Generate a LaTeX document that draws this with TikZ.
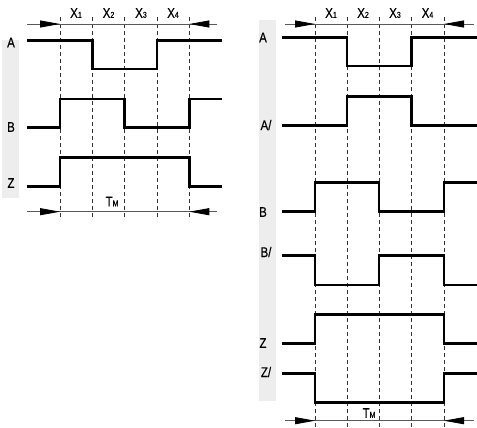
\documentclass[tikz,border=0pt]{standalone}
\usepackage{fontspec}
\setmainfont{Liberation Sans}[FakeStretch=0.82,FakeBold=0.5]
\usetikzlibrary{arrows.meta}
\newcommand{\sm}[1]{{\fontsize{8.5}{8.5}\selectfont #1}}
\begin{document}
\begin{tikzpicture}[x=1pt,y=-1pt,
  sig/.style={line width=2.9pt,line join=miter},
  grid/.style={draw=black!80,line width=0.8pt,dash pattern=on 4pt off 3pt},
  dim/.style={draw=black!65,line width=0.8pt},
  tip/.style={-{Triangle[length=20pt,width=7pt,color=black,fill=black]},draw=black!65,line width=0.8pt},
  lab/.style={font=\fontsize{14}{14}\selectfont,inner sep=0pt,anchor=center}]
\useasboundingbox (0,0) rectangle (477,428);
% ---------- left diagram ----------
\fill[black!7] (2,40) rectangle (19,198);
\foreach \x in {60,92.3,124.7,157,189.3} \draw[grid] (\x,17) -- (\x,220);
\coordinate (la) at (27,24); \coordinate (lb) at (217,24);
\coordinate (l1) at (60,24); \coordinate (l5) at (189.3,24);
\draw[dim] (la) -- (lb);
\draw[tip] (la) -- (l1);
\draw[tip] (lb) -- (l5);
\node[lab] (lx1) at (76,13) {X\sm{1}};
\node[lab] (lx2) at (108.5,13) {X\sm{2}};
\node[lab] (lx3) at (141,13) {X\sm{3}};
\node[lab] (lx4) at (173,13) {X\sm{4}};
\draw[sig] (27,40.7) -- (92.3,40.7) -- (92.3,69) -- (157,69) -- (157,40.7) -- (221.7,40.7);
\draw[sig] (27,127.7) -- (60,127.7) -- (60,99) -- (124.7,99) -- (124.7,127.7) -- (189.3,127.7) -- (189.3,99) -- (221.7,99);
\draw[sig] (27,186.7) -- (60,186.7) -- (60,157.7) -- (189.3,157.7) -- (189.3,186.7) -- (221.7,186.7);
\node[lab] (lA) at (11,42.5) {A};
\node[lab] (lB) at (11,127) {B};
\node[lab] (lZ) at (11,183) {Z};
\coordinate (lc) at (27,211.7); \coordinate (ld) at (217,211.7);
\coordinate (lc1) at (60,211.7); \coordinate (ld5) at (189.3,211.7);
\draw[dim] (lc) -- (ld);
\draw[tip] (lc) -- (lc1);
\draw[tip] (ld) -- (ld5);
\node[lab,fill=white,inner xsep=1pt] (ltm) at (112,201.5) {T\sm{M}};
% ---------- right diagram ----------
\fill[black!7] (259,20) rectangle (276,400.7);
\foreach \x in {315,347,379,411.3,444} \draw[grid] (\x,17) -- (\x,428);
\coordinate (ra) at (285,24); \coordinate (rb) at (474,24);
\coordinate (r1) at (315,24); \coordinate (r5) at (444,24);
\draw[dim] (ra) -- (rb);
\draw[tip] (ra) -- (r1);
\draw[tip] (rb) -- (r5);
\node[lab] (rx1) at (331,13) {X\sm{1}};
\node[lab] (rx2) at (363,13) {X\sm{2}};
\node[lab] (rx3) at (395,13) {X\sm{3}};
\node[lab] (rx4) at (427.5,13) {X\sm{4}};
\draw[sig] (282.3,37.7) -- (347,37.7) -- (347,66) -- (411.3,66) -- (411.3,37.7) -- (477,37.7);
\draw[sig] (282.3,125.7) -- (347,125.7) -- (347,96.7) -- (411.3,96.7) -- (411.3,125.7) -- (477,125.7);
\draw[sig] (282.3,211.7) -- (315,211.7) -- (315,182.3) -- (379,182.3) -- (379,211.7) -- (444,211.7) -- (444,182.3) -- (477,182.3);
\draw[sig] (282.3,255.7) -- (315,255.7) -- (315,285) -- (379,285) -- (379,255.7) -- (444,255.7) -- (444,285) -- (477,285);
\draw[sig] (282.3,343.3) -- (315,343.3) -- (315,314.3) -- (444,314.3) -- (444,343.3) -- (477,343.3);
\draw[sig] (282.3,373.3) -- (315,373.3) -- (315,402.3) -- (444,402.3) -- (444,373.3) -- (477,373.3);
\node[lab] (rA) at (263,37.5) {A};
\node[lab] (rAn) at (266,125) {A/};
\node[lab] (rB) at (263,212) {B};
\node[lab] (rBn) at (266,252) {B/};
\node[lab] (rZ) at (263,343) {Z};
\node[lab] (rZn) at (266,372) {Z/};
\coordinate (rc) at (285,420.7); \coordinate (rd) at (474,420.7);
\coordinate (rc1) at (315,420.7); \coordinate (rd5) at (444,420.7);
\draw[dim] (rc) -- (rd);
\draw[tip] (rc) -- (rc1);
\draw[tip] (rd) -- (rd5);
\node[lab,fill=white,inner xsep=1pt] (rtm) at (369,413) {T\sm{M}};
\end{tikzpicture}
\end{document}
